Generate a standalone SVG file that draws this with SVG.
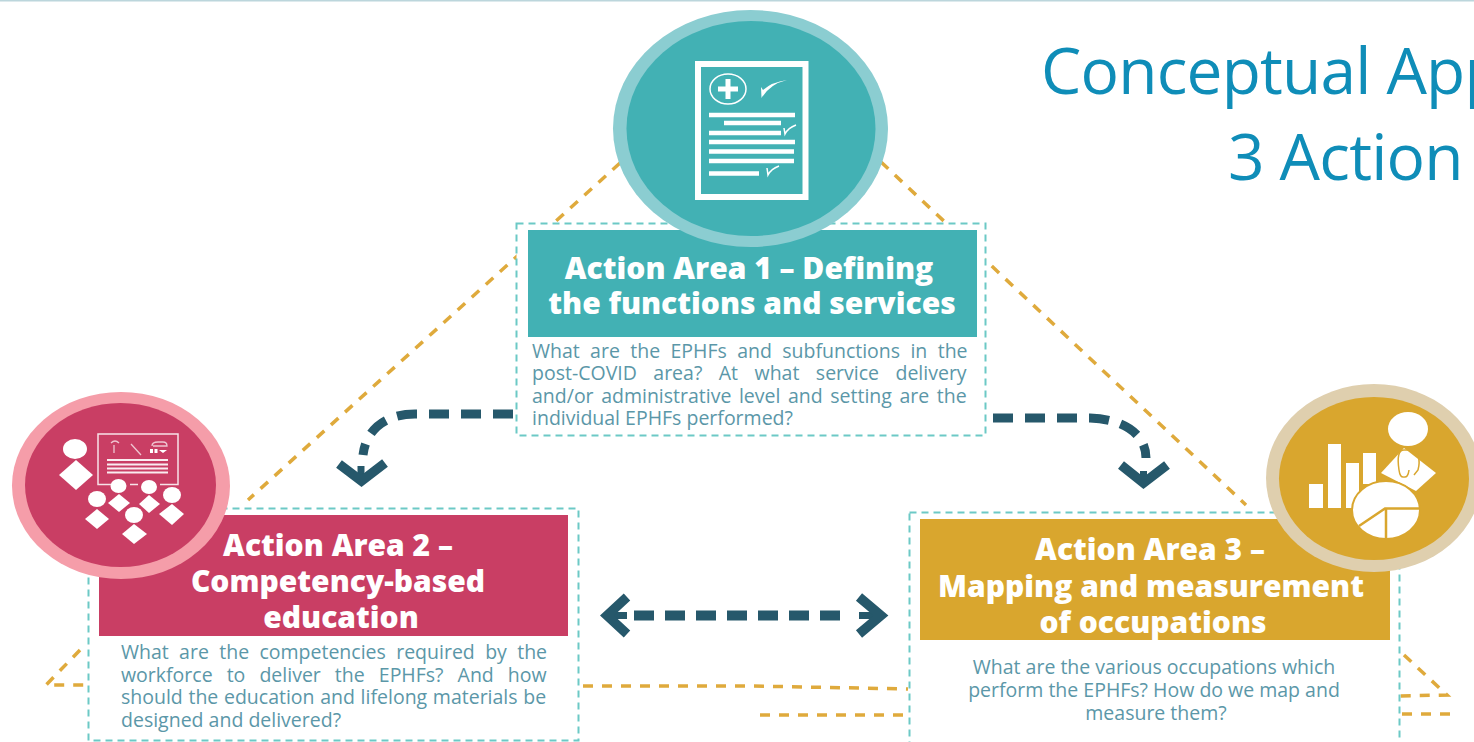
<svg xmlns="http://www.w3.org/2000/svg" width="1474" height="742" viewBox="0 0 1474 742">
<style>
.title{font-family:"Open Sans","Noto Sans",sans-serif;font-size:64px;letter-spacing:-.8px;fill:#0f8db8}
.h{font-family:"Open Sans","Noto Sans",sans-serif;font-weight:800;font-size:30px;fill:#fff;text-anchor:middle}
.b{font-family:"Open Sans","Noto Sans",sans-serif;font-size:19.500px;fill:#5b97a8}
.c{text-anchor:middle}
.gold{fill:none;stroke:#dfaa3c;stroke-width:3.500;stroke-dasharray:10 9}
.box{fill:#fff;stroke:#6cc9c6;stroke-width:2;stroke-dasharray:7 5}
.dark{fill:none;stroke:#26586b;stroke-width:9;stroke-dasharray:20 12}
.head{fill:none;stroke:#26586b;stroke-width:9.500}
.stem{fill:none;stroke:#26586b;stroke-width:7}
.w{fill:#fff}
.l{fill:none;stroke:#fff}
</style>
<rect width="1474" height="742" fill="#fff"/>
<rect width="1474" height="1.500" fill="#bcd6dc"/>
<text class="title" x="1041" y="94">Conceptual App</text>
<text class="title" x="1228" y="180">3 Action</text>
<g id="connectors">
<path class="gold" d="M620 163L248 500"/>
<path class="gold" d="M881 162L1246 505"/>
<path class="gold" d="M80 650L46 685H88"/>
<path class="gold" d="M583 686H752L908 689"/>
<path class="gold" d="M760 715H908"/>
<path class="gold" d="M1404 655L1447 695L1400 696"/>
<path class="gold" d="M1402 714H1452"/>
</g>
<g id="area1">
<rect class="box" x="516.500" y="223.500" width="469" height="212"/>
<rect x="528" y="230" width="449" height="107" fill="#42b1b4"/>
<ellipse cx="750.500" cy="128.500" rx="137.500" ry="118.500" fill="#8bcdd1"/>
<ellipse cx="751" cy="128.500" rx="124.500" ry="107.500" fill="#42b1b4"/>
<rect x="698" y="64" width="107.500" height="133" fill="none" stroke="#fff" stroke-width="6"/>
<ellipse cx="728" cy="89" rx="18" ry="15" class="l" stroke-width="1.500"/>
<path d="M728 79V99M718 89H738" class="l" stroke-width="5"/>
<path d="M761 87L761.500 98Q770 84 787 80Q772 82 763 90Z" class="w"/>
<path d="M709 115H795M724 123H781M709 133H781M709 142H795M709 151.500H794M709 161H794M709 173.500H759" class="l" stroke-width="4.500"/>
<path d="M784 128L785 134Q788 128 796 125M767 168L768 175Q771 169 779 166" class="l" stroke-width="1.500"/>
<text class="h" x="749" y="278.500">Action Area 1 – Defining</text>
<text class="h" x="752" y="313.500">the functions and services</text>
<text class="b" x="532" y="358" word-spacing="5.300">What are the EPHFs and subfunctions in the</text>
<text class="b" x="532" y="380" word-spacing="11.400">post-COVID area? At what service delivery</text>
<text class="b" x="532" y="403" word-spacing="2.500">and/or administrative level and setting are the</text>
<text class="b" x="532" y="425">individual EPHFs performed?</text>
</g>
<g id="area2">
<rect class="box" x="88.500" y="508.500" width="490" height="232"/>
<rect x="99" y="515" width="469" height="121" fill="#c93e64"/>
<ellipse cx="121" cy="485.500" rx="109" ry="93.500" fill="#f59da9"/>
<ellipse cx="120.500" cy="485" rx="95.500" ry="82" fill="#c93e64"/>
<ellipse cx="75" cy="449" rx="12" ry="10" class="w"/>
<path d="M76 460L93 475L76 490L59 475Z" class="w"/>
<path d="M111 484.500H98V434H178V484.500H160M130 484.500H138" class="l" stroke-width="1.500" opacity=".85"/>
<path d="M107 460H168M107 464.500H168M107 468.500H168M107 472.500H168" class="l" stroke-width="1.800" opacity=".9"/>
<path d="M111 443Q115 439 119 443M114 445V453M131 444L141 455M152 446Q152 442 158 442H163Q167 442 167 446H153" class="l" stroke-width="1.300" opacity=".7"/>
<path d="M150 449H153V453H150ZM154.500 449H157.500V453H154.500ZM159 450H167L163 453Z" class="w"/>
<g class="w">
<ellipse cx="118.500" cy="486" rx="8" ry="7"/><path d="M119 494L130 503L119 512L108 503Z"/>
<ellipse cx="149" cy="487" rx="8" ry="7"/><path d="M149 495L160 504L149 513L139 504Z"/>
<ellipse cx="97" cy="499" rx="9" ry="8"/><path d="M97 509L109 519L97 529L85 519Z"/>
<ellipse cx="172" cy="495" rx="9" ry="8"/><path d="M172 504L184 514L172 525L159 514Z"/>
<ellipse cx="134" cy="515" rx="9" ry="8"/><path d="M134 524L147 534L134 544L122 534Z"/>
</g>
<text class="h" x="338" y="555.500">Action Area 2 –</text>
<text class="h" x="338" y="591.500">Competency-based</text>
<text class="h" x="341" y="627.500">education</text>
<text class="b" x="121" y="659" word-spacing="5.300">What are the competencies required by the</text>
<text class="b" x="121" y="682" word-spacing="9">workforce to deliver the EPHFs? And how</text>
<text class="b" x="121" y="704" word-spacing=".6">should the education and lifelong materials be</text>
<text class="b" x="121" y="727">designed and delivered?</text>
</g>
<g id="area3">
<rect class="box" x="909.500" y="512.500" width="490" height="240"/>
<rect x="920" y="519" width="470" height="121" fill="#d9a62e"/>
<ellipse cx="1374" cy="478" rx="108" ry="94" fill="#dfcfae"/>
<ellipse cx="1374" cy="478.500" rx="95" ry="81.500" fill="#d9a62e"/>
<ellipse cx="1408" cy="429" rx="20" ry="17" class="w"/>
<path d="M1404 448L1436 473L1416 491L1381 473Z" class="w"/>
<path d="M1399 470Q1396 450 1404 450H1412Q1422 455 1418 470L1414 475M1399 470Q1400 478 1404 477M1409 470Q1408 478 1404 477" fill="none" stroke="#d9a62e" stroke-width="1.500"/>
<path d="M1309 484H1323V508H1309ZM1328 444H1341V508H1328ZM1346 463H1359V508H1346ZM1363 453H1376V484H1363Z" class="w"/>
<ellipse cx="1386" cy="510" rx="34" ry="29" class="w" stroke="#d9a62e" stroke-width="2"/>
<path d="M1359 526L1385 508.500H1420M1386 508.500V539" fill="none" stroke="#d9a62e" stroke-width="2.500"/>
<text class="h" x="1150" y="559.500">Action Area 3 –</text>
<text class="h" x="1151" y="596.500">Mapping and measurement</text>
<text class="h" x="1153" y="632.500">of occupations</text>
<text class="b c" x="1154" y="674">What are the various occupations which</text>
<text class="b c" x="1154" y="697">perform the EPHFs? How do we map and</text>
<text class="b c" x="1156" y="720">measure them?</text>
</g>
<g id="arrows">
<path class="dark" d="M513 414H415C385 414 366 430 363 455"/>
<path class="stem" d="M361 466V482"/>
<path class="head" d="M339 464L361.500 481L385 463"/>
<path class="dark" d="M993 418H1090C1125 419 1146 435 1146 458"/>
<path class="stem" d="M1143.500 471V486"/>
<path class="head" d="M1121 465L1143.500 483L1167 465"/>
<path class="dark" d="M634 615.500H843" style="stroke-width:10;stroke-dasharray:20 11"/>
<path class="stem" d="M605 615.500H627M859 615.500H875"/>
<path class="head" d="M627 597L607 615.500L627 634M859 597L881 615.500L859 634"/>
</g>
</svg>
